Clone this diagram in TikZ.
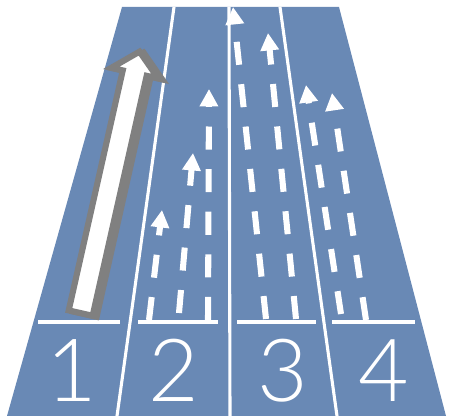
\documentclass[tikz,border=0pt]{standalone}
\usepackage{fontspec}
\setmainfont{Carlito}
\newfontfamily\numfont{Lato Light}
\usetikzlibrary{arrows.meta}
\definecolor{roadblue}{RGB}{105,137,181}
\definecolor{arrowgray}{RGB}{128,128,128}
\tikzset{
  laneline/.style={white, line width=2.2pt},
  stopline/.style={white, line width=2.8pt},
  dasharrow/.style={white, line width=4.3pt, dash pattern=on 16.4pt off 13.9pt,
    -{Triangle[width=12.6pt,length=12.4pt]}},
  lanenum/.style={white, inner sep=0pt, anchor=base, font=\numfont\fontsize{62}{62}\selectfont},
  bigarrow/.style={line width=4.3pt, line join=miter}
}
\begin{document}
\begin{tikzpicture}[x=0.025cm, y=-0.025cm]
\useasboundingbox (0,0) rectangle (449,418);

\fill[roadblue] (122,7) -- (339,7) -- (446,416) -- (7,416) -- cycle;

\draw[laneline] (174,7) -- (117,416);
\draw[laneline] (229,7) -- (230,416);
\draw[laneline] (280,7) -- (337,416);

\draw[stopline] (38,322) -- (120,322);
\draw[stopline] (138,322) -- (218,322);
\draw[stopline] (237,322) -- (316,322);
\draw[stopline] (332,322) -- (415,322);

\node[lanenum] (one) at (72,402) {1};
\node[lanenum] (two) at (174,402) {2};
\node[lanenum] (three) at (283,402) {3};
\node[lanenum] (four) at (384,402) {4};

\begin{scope}[shift={(84,317)}, rotate=77.3]
\filldraw[bigarrow, arrowgray] (3,-12.25) -- (249,-12.25) -- (249,-24) -- (271,0)
  -- (249,24) -- (249,12.25) -- (3,12.25) -- cycle;
\end{scope}
\begin{scope}[shift={(80,316)}, rotate=77.3]
\filldraw[bigarrow, draw=arrowgray, fill=white] (3,-12.25) -- (249,-12.25) -- (249,-24) -- (271,0)
  -- (249,24) -- (249,12.25) -- (3,12.25) -- cycle;
\end{scope}

\draw[dasharrow] (149,320) -- (162,210);
\draw[dasharrow] (179,313) -- (193,153);
\draw[dasharrow] (208,320) -- (209,89);

\draw[dasharrow] (266,319) -- (233,7);
\draw[dasharrow] (296,319) -- (268,33);

\draw[dasharrow] (341,314) -- (306,85);
\draw[dasharrow] (366,320) -- (332,93);
\end{tikzpicture}
\end{document}
